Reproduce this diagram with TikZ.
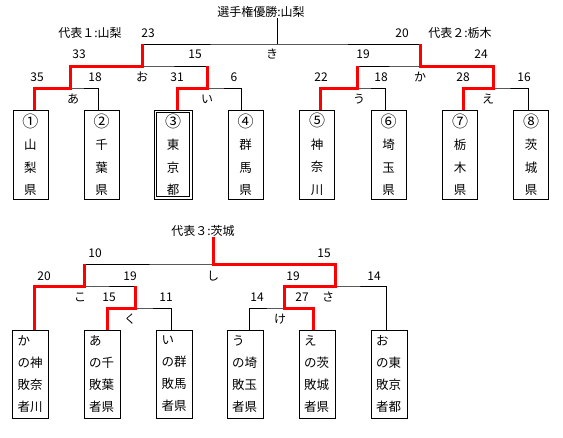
\documentclass[tikz,border=0pt]{standalone}
\usepackage{fontspec}
\setmainfont{Noto Sans CJK JP}
\newcommand{\bignum}[1]{{\fontsize{16}{22.5}\selectfont #1}}
\begin{document}
\begin{tikzpicture}[x=1pt,y=-1pt,
    lbl/.style={inner sep=0pt,font=\fontsize{12}{14}\selectfont},
    pref/.style={draw,line width=1pt,minimum width=35pt,minimum height=89pt,align=center,inner sep=0pt,font=\fontsize{12.5}{22.5}\selectfont},
    loser/.style={draw,line width=1pt,minimum height=88pt,text width=26pt,inner xsep=5pt,inner ysep=0pt,align=left,font=\fontsize{12.5}{22}\selectfont},
    tie/.style={line width=1pt},
    win/.style={red,line width=3pt}]
    \useasboundingbox (0,0) rectangle (563,437);

    % upper bracket
    \node[pref] (p1) at (30.5,154.5) {\bignum{①}\\山\\梨\\県};
    \node[pref] (p2) at (101.5,154.5) {\bignum{②}\\千\\葉\\県};
    \node[pref,minimum width=38pt] (p3) at (173,154.5) {\bignum{③}\\東\\京\\都};
    \draw[tie] ([shift={(3pt,-3pt)}]p3.north west) rectangle ([shift={(-3pt,3pt)}]p3.south east);
    \node[pref] (p4) at (245.5,154.5) {\bignum{④}\\群\\馬\\県};
    \node[pref] (p5) at (317,154.5) {\bignum{⑤}\\神\\奈\\川};
    \node[pref] (p6) at (388.5,154.5) {\bignum{⑥}\\埼\\玉\\県};
    \node[pref] (p7) at (460,154.5) {\bignum{⑦}\\栃\\木\\県};
    \node[pref] (p8) at (531,154.5) {\bignum{⑧}\\茨\\城\\県};

    \coordinate (t1) at (34,110);
    \coordinate (t2) at (98,110);
    \coordinate (t3) at (177,110);
    \coordinate (t4) at (241,110);
    \coordinate (t5) at (320,110);
    \coordinate (t6) at (385,110);
    \coordinate (t7) at (463,110);
    \coordinate (t8) at (528,110);
    \coordinate (ja) at (70,88);
    \coordinate (ji) at (207,88);
    \coordinate (ju) at (357,88);
    \coordinate (je) at (493,88);
    \coordinate (jo) at (142,66);
    \coordinate (jka) at (420,66);
    \coordinate (jki) at (277,44);

    \node[lbl] (champ) at (261,12) {選手権優勝:山梨};
    \node[lbl] (rep1) at (90,33) {代表１:山梨};
    \node[lbl] (rep2) at (460,33) {代表２:栃木};

    \draw[tie] (t1) |- (ja) -| (t2);
    \draw[tie] (t3) |- (ji) -| (t4);
    \draw[tie] (t5) |- (ju) -| (t6);
    \draw[tie] (t7) |- (je) -| (t8);
    \draw[tie] (ja) |- (jo) -| (ji);
    \draw[tie] (ju) |- (jka) -| (je);
    \draw[tie] (jo) |- (jki) -| (jka);
    \draw[tie] (jki) -- (jki |- champ.south);

    \draw[win] (t1) |- (ja) |- (jo) -- (jo |- jki);
    \draw[win] (t3) |- (ji) -- (ji |- jo);
    \draw[win] (t5) |- (ju) -- (ju |- jka);
    \draw[win] (t7) |- (je) |- (jka) -- (jka |- jki);

    \node[lbl] (s35) at (37,77) {35};
    \node[lbl] (s18a) at (95,77) {18};
    \node[lbl] (s31) at (177,77) {31};
    \node[lbl] (s6) at (234,77) {6};
    \node[lbl] (s22) at (321,77) {22};
    \node[lbl] (s18b) at (381,77) {18};
    \node[lbl] (s28) at (463,77) {28};
    \node[lbl] (s16) at (524,77) {16};
    \node[lbl] (s33) at (79,54) {33};
    \node[lbl] (s15a) at (195,54) {15};
    \node[lbl] (s19a) at (363,54) {19};
    \node[lbl] (s24) at (481,54) {24};
    \node[lbl] (s23) at (148,33) {23};
    \node[lbl] (s20a) at (402,33) {20};
    \node[lbl] (ma) at (73,99) {あ};
    \node[lbl] (mi) at (207,99) {い};
    \node[lbl] (mu) at (359,99) {う};
    \node[lbl] (me) at (488,99) {え};
    \node[lbl] (mo) at (142,77) {お};
    \node[lbl] (mka) at (420,77) {か};
    \node[lbl] (mki) at (272,54) {き};

    % lower bracket
    \node[loser] (q1) at (30.5,374) {か\\の神\\敗奈\\者川};
    \node[loser] (q2) at (102,374) {あ\\の千\\敗葉\\者県};
    \node[loser] (q3) at (174.5,374) {い\\の群\\敗馬\\者県};
    \node[loser] (q4) at (245,374) {う\\の埼\\敗玉\\者県};
    \node[loser] (q5) at (317,374) {え\\の茨\\敗城\\者県};
    \node[loser] (q6) at (389,374) {お\\の東\\敗京\\者都};

    \coordinate (u1) at (34,330);
    \coordinate (u2) at (107,330);
    \coordinate (u3) at (171,330);
    \coordinate (u4) at (249,330);
    \coordinate (u5) at (313,330);
    \coordinate (u6) at (386,330);
    \coordinate (jku) at (135,308);
    \coordinate (jke) at (284,308);
    \coordinate (jko) at (84,286);
    \coordinate (jsa) at (335,286);
    \coordinate (jshi) at (213,264);

    \node[lbl] (rep3) at (203,231) {代表３:茨城};

    \draw[tie] (u2) |- (jku) -| (u3);
    \draw[tie] (u1) |- (jko) -| (jku);
    \draw[tie] (u4) |- (jke) -| (u5);
    \draw[tie] (jke) |- (jsa) -| (u6);
    \draw[tie] (jko) |- (jshi) -| (jsa);

    \draw[win] (u1) |- (jko) -- (jko |- jshi);
    \draw[win] (u2) |- (jku) -- (jku |- jko);
    \draw[win] (u5) |- (jke) |- (jsa) |- (jshi) -- (jshi |- rep3.south);

    \node[lbl] (r10) at (95,253) {10};
    \node[lbl] (r15a) at (324,253) {15};
    \node[lbl] (r20) at (44,276) {20};
    \node[lbl] (r19a) at (130,276) {19};
    \node[lbl] (r19b) at (293,276) {19};
    \node[lbl] (r14a) at (374,276) {14};
    \node[lbl] (r15b) at (109,297) {15};
    \node[lbl] (r11) at (166,297) {11};
    \node[lbl] (r14b) at (257,297) {14};
    \node[lbl] (r27) at (302,297) {27};
    \node[lbl] (mshi) at (213,276) {し};
    \node[lbl] (mko) at (80,297) {こ};
    \node[lbl] (msa) at (328,297) {さ};
    \node[lbl] (mku) at (130,319) {く};
    \node[lbl] (mke) at (280,319) {け};
\end{tikzpicture}
\end{document}
